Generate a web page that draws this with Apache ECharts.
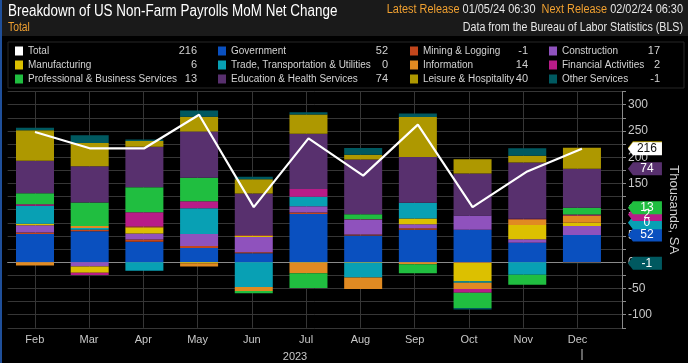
<!DOCTYPE html>
<html><head><meta charset="utf-8">
<script src="https://cdn.jsdelivr.net/npm/echarts@6/dist/echarts.min.js"></script>
<style>html,body{margin:0;padding:0;background:#000;}#c{width:688px;height:363px;}</style>
</head><body><div id="c"></div>
<script>
const months = ['Feb','Mar','Apr','May','Jun','Jul','Aug','Sep','Oct','Nov','Dec'];
const total         = [248, 217, 217, 281, 105, 236, 165, 262, 105, 173, 216];
const government    = [54, 59, 39, 27, 17, 92, 51, 62, 62, 37, 52];
const mining        = [2.5, 3, 4.5, 4, 2, 2.5, 2, 2.5, -1, 0, -1];
const construction  = [14, -8, 11, 23, 29, 12, 28, 8, 27, 7, 17];
const manufacturing = [3, -12, 11, -2, 3, -1, -1, 11, -35, 27, 6];
const trade         = [34, 3, -16, 49, -47, 18, -28, 30, -3, -24, 0];
const information   = [-6, 4, 2.5, -6, -8, -20, -22, -4, -12, 11, 14];
const financial     = [3, -4.5, 27, 13, 1, 15, 1, 0, -7, 1, 2];
const professional  = [21, 45, 48, 45, -4, -28, 9.5, -17, -29, -19, 13];
const education     = [62, 69, 77, 88, 79, 105, 104, 87, 80, 107, 74];
const leisure       = [58, 44, 11, 28, 27, 37, 9, 76, 27, 13, 40];
const other         = [4.5, 15, 3, 12, 5, 4, 13, 7, -3, 14, -1];
const yTicks = [-100, -50, 0, 50, 100, 150, 200, 250, 300];

const F = "'Liberation Sans',Arial,sans-serif";
const comps = [
  {name:'Government', data:government, color:'#0a50bf', tag:true},
  {name:'Mining & Logging', data:mining, color:'#c2461c', tag:false},
  {name:'Construction', data:construction, color:'#8f52bd', tag:false},
  {name:'Manufacturing', data:manufacturing, color:'#dcc000', tag:false},
  {name:'Trade, Transportation & Utilities', data:trade, color:'#08a0b4', tag:true},
  {name:'Information', data:information, color:'#e08a22', tag:false},
  {name:'Financial Activities', data:financial, color:'#b81c88', tag:true},
  {name:'Professional & Business Services', data:professional, color:'#20be40', tag:true},
  {name:'Education & Health Services', data:education, color:'#58306e', tag:true},
  {name:'Leisure & Hospitality', data:leisure, color:'#ae9800', tag:true},
  {name:'Other Services', data:other, color:'#005960', tag:true}
];
const last = months.length - 1;
const latest = {'Total': total[last]};
comps.forEach(c => latest[c.name] = c.data[last]);

let pos = 0, neg = 0;
comps.forEach(c => { const v = c.data[last]; if (v >= 0) { pos += v; c.end = pos; } else { neg += v; c.end = neg; } });

const tagPath = 'path://M0,6.5L5,0L34,0L34,13L5,13Z';
function tag(yv, label, color, textColor) {
  return {
    symbol: tagPath, symbolSize: [34, 13], symbolOffset: [63, 0], symbolKeepAspect: false, silent: true,
    data: [{coord: [months[last], yv], value: label}],
    itemStyle: {color: color},
    label: {show: true, position: 'inside', offset: [2, 0], color: textColor, fontFamily: F, fontSize: 12, formatter: String(label)}
  };
}

const series = comps.map(c => {
  const s = {
    name: c.name, type: 'bar', stack: 'a', barWidth: 38, xAxisIndex: 1, yAxisIndex: 1,
    itemStyle: {color: c.color},
    data: c.data.slice()
  };
  if (c.tag) s.markPoint = tag(c.end, c.data[last], c.color, '#fff');
  return s;
});
series.push({
  name: 'Total', type: 'line', showSymbol: false, symbol: 'none', z: 5, xAxisIndex: 1, yAxisIndex: 1,
  lineStyle: {color: '#fff', width: 2.2}, itemStyle: {color: '#fff'},
  data: total.slice(),
  markPoint: tag(total[last], total[last], '#fff', '#111')
});

const legendCols = [
  {names: ['Total', 'Manufacturing', 'Professional & Business Services'], left: 15, right: 197},
  {names: ['Government', 'Trade, Transportation & Utilities', 'Education & Health Services'], left: 218, right: 388},
  {names: ['Mining & Logging', 'Information', 'Leisure & Hospitality'], left: 410, right: 528},
  {names: ['Construction', 'Financial Activities', 'Other Services'], left: 549, right: 660}
];
const legends = legendCols.map(col => ({
  orient: 'vertical', left: col.left, top: 44, itemWidth: 8, itemHeight: 9, itemGap: 0, padding: 0,
  icon: 'rect', selectedMode: false, data: col.names,
  textStyle: {color: '#d2d2d2', fontFamily: F, fontSize: 10, lineHeight: 14}
}));
const valueTexts = [];
legendCols.forEach(col => col.names.forEach((n, r) => valueTexts.push({
  type: 'text', x: col.right, y: 51 + r * 14,
  style: {text: String(latest[n]), fill: '#d2d2d2', font: '11px ' + F, textAlign: 'right', textVerticalAlign: 'middle'}
})));

const chart = echarts.init(document.getElementById('c'), null, {renderer: 'canvas'});
chart.setOption({
  backgroundColor: '#000',
  animation: false,
  grid: [
    {left: 7.65, right: 61.3, top: 91.6, bottom: 35.15, containLabel: false},
    {left: 7.65, width: 601.65, top: 91.6, bottom: 35.15, containLabel: false}
  ],
  legend: legends,
  xAxis: [{
    type: 'value', gridIndex: 0, min: 0.5, max: 11.82, offset: 2,
    axisLine: {show: true, lineStyle: {color: '#8a8a8a'}},
    axisTick: {show: false, customValues: months.map((m, i) => i + 1)},
    axisLabel: {customValues: months.map((m, i) => i + 1), formatter: v => months[v - 1] || '',
      color: '#c8c8c8', fontFamily: F, fontSize: 11, margin: 5},
    splitLine: {show: true, lineStyle: {color: '#363636'}}
  }, {
    type: 'category', gridIndex: 1, data: months, show: false
  }],
  yAxis: [{
    type: 'value', gridIndex: 0, position: 'right', min: -125, max: 325, interval: 25,
    name: 'Thousands, SA', nameLocation: 'middle', nameRotate: -90, nameGap: 45,
    nameTextStyle: {color: '#d2d2d2', fontFamily: F, fontSize: 13},
    axisLine: {show: true, lineStyle: {color: '#8a8a8a'}},
    axisTick: {show: true, length: 4, lineStyle: {color: '#8a8a8a'}},
    axisLabel: {formatter: v => (yTicks.indexOf(v) >= 0 ? String(v) : ''), color: '#c8c8c8', fontFamily: F, fontSize: 12, margin: 6},
    splitLine: {show: true, lineStyle: {color: '#363636'}}
  }, {
    type: 'value', gridIndex: 1, min: -125, max: 325, interval: 25, show: false, splitLine: {show: false}
  }],
  graphic: [
    {type: 'rect', x: 0, y: 0, shape: {width: 688, height: 36}, style: {fill: '#1a1a1a'}, z: -10},
    {type: 'rect', x: 0, y: 0, shape: {width: 2, height: 363}, style: {fill: '#1f4f9a'}, z: 10},
    {type: 'rect', x: 8, y: 42, shape: {width: 676, height: 46}, style: {fill: 'none', stroke: '#262626', lineWidth: 1}, z: -5},
    {type: 'text', x: 8, y: 12, scaleX: 0.84, style: {text: 'Breakdown of US Non-Farm Payrolls MoM Net Change', fill: '#ffffff', font: '16px ' + F, textVerticalAlign: 'middle'}},
    {type: 'text', x: 8, y: 28, scaleX: 0.86, style: {text: 'Total', fill: '#f0a030', font: '12px ' + F, textVerticalAlign: 'middle'}},
    {type: 'text', x: 683, y: 10, scaleX: 0.91, style: {
      text: '{o|Latest Release} {w|01/05/24 06:30}  {o|Next Release} {w|02/02/24 06:30}', textAlign: 'right', textVerticalAlign: 'middle',
      rich: {o: {fill: '#f0a030', font: '12px ' + F}, w: {fill: '#e6e6e6', font: '12px ' + F}}}},
    {type: 'text', x: 683, y: 28, scaleX: 0.89, style: {text: 'Data from the Bureau of Labor Statistics (BLS)', fill: '#e6e6e6', font: '12px ' + F, textAlign: 'right', textVerticalAlign: 'middle'}},
    {type: 'text', x: 295, y: 357, style: {text: '2023', fill: '#c8c8c8', font: '11px ' + F, textAlign: 'center', textVerticalAlign: 'middle'}},
    {type: 'line', shape: {x1: 582, y1: 349, x2: 582, y2: 360}, style: {stroke: '#c8c8c8', lineWidth: 1}}
  ].concat(valueTexts),
  series: series
});
</script>
</body></html>
